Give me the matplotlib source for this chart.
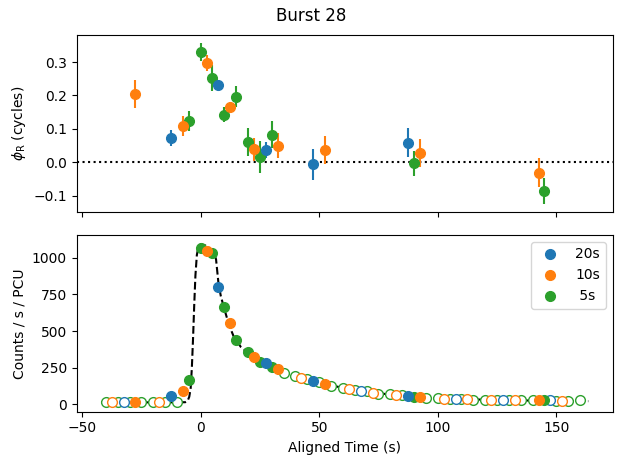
import numpy as np
import matplotlib
matplotlib.use("Agg")
import matplotlib.pyplot as plt

# Datos: curva de luz (cuentas) por tamano de bin
t5 = np.arange(-40, 161, 5)
c5 = [12, 12, 12, 12, 12, 12, 13, 164, 1066, 1032, 666, 438, 358, 290, 256, 214,
      192, 170, 153, 125, 107, 96, 89, 66, 68, 60, 46, 39, 39, 35, 32, 28, 28, 29,
      28, 25, 25, 25, 23, 19, 25]
t10 = np.arange(-37.5, 153, 10)
c10 = [12, 12, 12, 89, 1050, 553, 324, 238, 176, 141, 100, 77, 64, 46, 37, 32,
       29, 28, 25, 22]
t20 = np.arange(-32.5, 148, 20)
c20 = [12, 57, 803, 279, 160, 89, 55, 35, 29, 25]

# Fase medida (solo bins con deteccion)
tp20 = [-12.5, 7.5, 27.5, 47.5, 87.5]
ph20 = [0.073, 0.232, 0.037, -0.006, 0.059]
er20 = [0.025, 0.010, 0.023, 0.046, 0.044]

tp10 = [-27.5, -7.5, 2.5, 12.5, 22.5, 32.5, 52.5, 92.5, 142.5]
ph10 = [0.205, 0.108, 0.297, 0.165, 0.039, 0.050, 0.037, 0.028, -0.031]
er10 = [0.042, 0.030, 0.024, 0.015, 0.035, 0.037, 0.042, 0.042, 0.044]

tp5 = [-5, 0, 5, 10, 15, 20, 25, 30, 90, 145]
ph5 = [0.123, 0.330, 0.252, 0.143, 0.196, 0.061, 0.016, 0.083, -0.003, -0.086]
er5 = [0.030, 0.027, 0.040, 0.022, 0.031, 0.042, 0.047, 0.041, 0.037, 0.039]

# Modelo (linea discontinua)
tm = [-42, -10, -6.5, -5.5, -4.8, -4.2, -3.7, -3.2, -2.7, -2.2, -1.6, -1, 0, 2,
      4, 5.5, 6.5, 7.5, 8.5, 10, 12, 14, 17, 20, 25, 30, 35, 40, 50, 60, 70, 80,
      90, 100, 120, 140, 163.5]
cm = [12, 12, 13, 22, 50, 110, 250, 450, 680, 880, 1020, 1070, 1095, 1085, 1065,
      1040, 990, 830, 740, 650, 540, 460, 390, 350, 292, 255, 220, 190, 150, 110,
      85, 65, 48, 40, 30, 24, 20]

colores = {"20s": "tab:blue", "10s": "tab:orange", "5s": "tab:green"}

fig = plt.figure(figsize=(6.22, 4.57), dpi=100)
ax1 = fig.add_axes([0.1233, 0.536, 0.8617, 0.3874])
ax2 = fig.add_axes([0.1233, 0.0991, 0.8617, 0.3867], sharex=ax1)

ax1.axhline(0, color="k", ls=":", lw=1.5)
series = [("5s", tp5, ph5, er5, t5, c5),
          ("10s", tp10, ph10, er10, t10, c10),
          ("20s", tp20, ph20, er20, t20, c20)]

ax2.plot(tm, cm, "k--", lw=1.5, zorder=1)

handles = {}
for nombre, tp, ph, er, t, c in series:
    col = colores[nombre]
    ax1.errorbar(tp, ph, yerr=er, fmt="o", color=col, ms=7)
    t = np.asarray(t)
    c = np.asarray(c)
    lleno = np.isin(t, tp)
    ax2.plot(t[~lleno], c[~lleno], "o", mfc="white", mec=col, ms=7, zorder=2)
    h, = ax2.plot(t[lleno], c[lleno], "o", color=col, ms=7, zorder=3)
    handles[nombre] = h

ax1.set_ylabel(r"$\phi_\mathrm{R}$ (cycles)")
ax1.set_yticks([-0.1, 0.0, 0.1, 0.2, 0.3])
ax1.tick_params(labelbottom=False)

ax2.set_ylim(-52, 1157)
ax2.set_xlabel("Aligned Time (s)")
ax2.set_ylabel("Counts / s / PCU")
ax2.legend([handles["20s"], handles["10s"], handles["5s"]], ["20s", "10s", " 5s"],
           loc="upper right")

fig.suptitle("Burst 28", y=0.985)
fig.savefig("out.png", dpi=100)
